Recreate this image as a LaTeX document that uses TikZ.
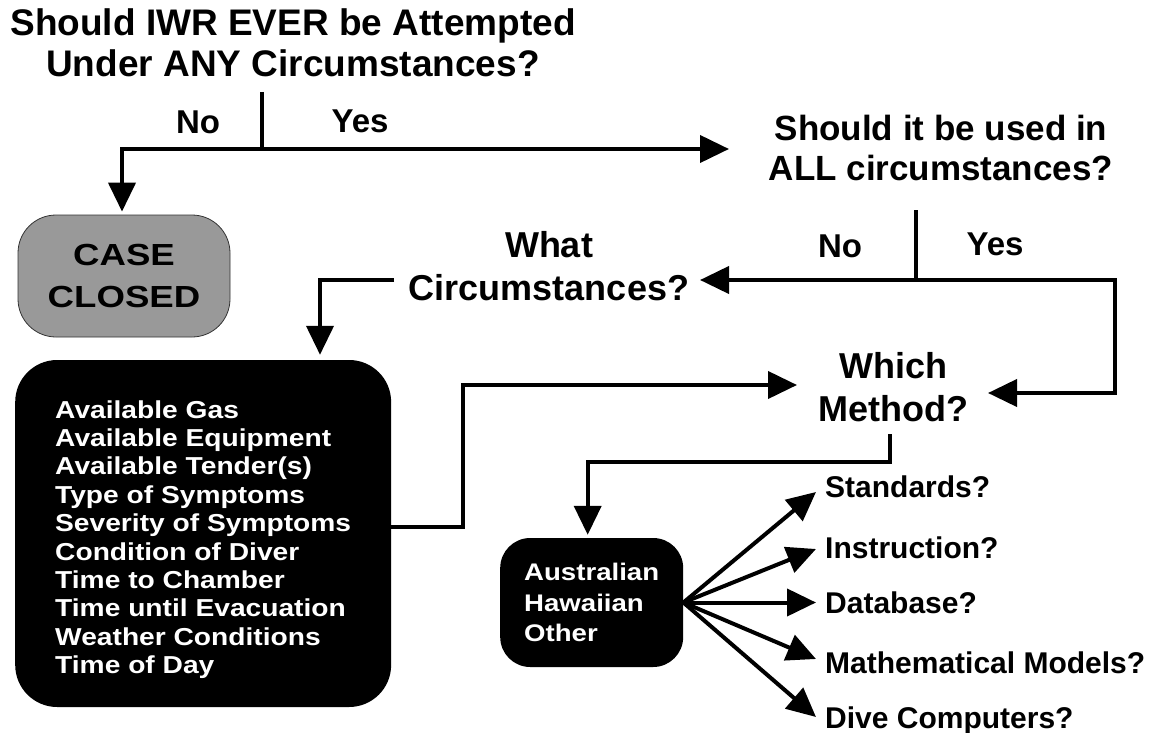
\documentclass[tikz,border=0pt]{standalone}
\usepackage{fontspec}
\setmainfont{Liberation Sans}
\newfontfamily\widefont[FakeStretch=1.2]{Liberation Sans}
\newfontfamily\semiwidefont[FakeStretch=1.15]{Liberation Sans}
\usetikzlibrary{arrows.meta}
\begin{document}
\begin{tikzpicture}[x=1pt,y=-1pt,
  conn/.style={line width=4pt},
  arr/.style={conn,-{Triangle[length=29pt,width=27pt]}},
  qtext/.style={font=\bfseries\fontsize{36}{43}\selectfont,align=center,inner sep=0pt,anchor=north},
  yn/.style={font=\bfseries\fontsize{33}{38}\selectfont,inner sep=0pt,anchor=base},
  opt/.style={font=\bfseries\fontsize{30}{36}\selectfont,inner sep=0pt,anchor=base west},
  darkbox/.style={fill=black,text=white,align=left,inner ysep=0pt,anchor=west}
]
\useasboundingbox (0,0) rectangle (1164,733);

% question texts
\node[qtext,font=\bfseries\fontsize{37}{41.5}\selectfont] (title) at (293,8) {Should IWR EVER be Attempted\\Under ANY Circumstances?};
\node[qtext,font=\bfseries\fontsize{35}{40}\selectfont] (q2) at (941,115) {Should it be used in\\ALL circumstances?};
\node[qtext] (wc) at (549,231) {What\\Circumstances?};
\node[qtext] (wm) at (893,352) {Which\\Method?};

% yes / no labels
\node[yn] (no1) at (198,133) {No};
\node[yn] (yes1) at (360,132) {Yes};
\node[yn] (no2) at (840,257) {No};
\node[yn] (yes2) at (995,255) {Yes};

% boxes
\node[draw=black!80,line width=0.8pt,fill=black!40,rounded corners=38pt,
      minimum width=212pt,minimum height=122pt,align=center,
      font=\widefont\bfseries\fontsize{30.5}{42}\selectfont] (cc) at (124,276) {CASE\\CLOSED};

\node[darkbox,rounded corners=42pt,minimum width=372pt,minimum height=347pt,
      inner xsep=40pt,
      font=\semiwidefont\bfseries\fontsize{24.5}{28.4}\selectfont] (bx) at (15,533.5)
  {\rule{0pt}{30pt}Available Gas\\Available Equipment\\Available Tender(s)\\Type of Symptoms\\Severity of Symptoms\\Condition of Diver\\Time to Chamber\\Time until Evacuation\\Weather Conditions\\Time of Day};

\node[darkbox,rounded corners=30pt,minimum width=182pt,minimum height=129pt,
      inner xsep=24pt,
      font=\semiwidefont\bfseries\fontsize{24}{30.5}\selectfont] (ab) at (500,602.5)
  {Australian\\Hawaiian\\Other};

% options
\node[opt] (o1) at (825,497) {Standards?};
\node[opt] (o2) at (825,558) {Instruction?};
\node[opt] (o3) at (825,613) {Database?};
\node[opt] (o4) at (825,673) {Mathematical Models?};
\node[opt] (o5) at (825,728) {Dive Computers?};

% junction coordinates
\coordinate (t1) at (262,92);
\coordinate (j1) at (262,149);
\coordinate (q2tip) at (729,149);
\coordinate (t2) at (916,210);
\coordinate (j2) at (916,280);
\coordinate (wctip) at (700,280);
\coordinate (c2) at (1115,280);
\coordinate (wmRtip) at (988,393);
\coordinate (w1) at (394,280);
\coordinate (w2) at (320,280);
\coordinate (k1) at (463,385);
\coordinate (wmLtip) at (797,385);
\coordinate (m1) at (890,434);
\coordinate (m2) at (890,462);
\coordinate (s1) at (816,492);
\coordinate (s2) at (816,549);
\coordinate (s3) at (816,602.5);
\coordinate (s4) at (816,659);
\coordinate (s5) at (816,717);

% connectors
\draw[conn] (t1) -- (j1);
\draw[arr,shorten >=3pt] (j1) -| ([xshift=-2pt]cc.north);
\draw[arr] (j1) -- (q2tip);
\draw[conn] (t2) -- (j2);
\draw[arr] (j2) -- (wctip);
\draw[arr] (j2) -- (c2) |- (wmRtip);
\draw[arr,shorten >=5pt] (w1) -- (w2) -- (w2 |- bx.north);
\draw[arr] ([yshift=6.5pt]bx.east) -| (k1) -- (wmLtip);
\draw[arr,shorten >=3pt] (m1) -- (m2) -| ([xshift=-4pt]ab.north);
\foreach \s in {s1,s2,s3,s4,s5} \draw[arr] (ab.east) -- (\s);
\end{tikzpicture}
\end{document}
